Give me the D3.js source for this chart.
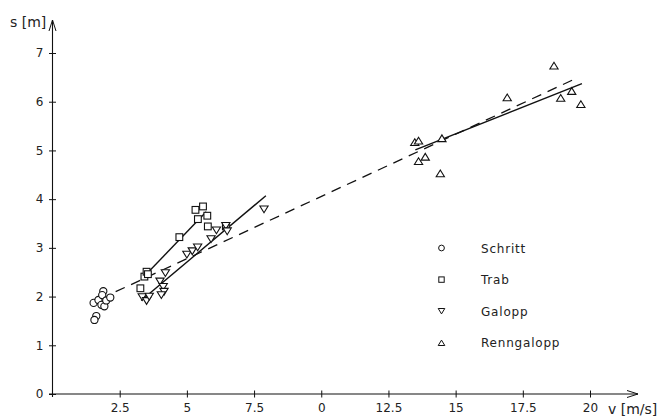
<!DOCTYPE html>
<html><head><meta charset="utf-8">
<script src="https://cdn.jsdelivr.net/npm/d3@7/dist/d3.min.js"></script>
<style>
html,body{margin:0;padding:0;background:#fff;}
svg{display:block;}
text{font-family:"DejaVu Sans","Liberation Sans",sans-serif;fill:#222;}
</style></head>
<body>
<script>
// ---- data ----
const xTickValues = [2.5, 5, 7.5, 10, 12.5, 15, 17.5, 20];
const xTickLabels = ["2.5", "5", "7.5", "0", "12.5", "15", "17.5", "20"];
const yTickValues = [0, 1, 2, 3, 4, 5, 6, 7];
const yTickLabels = ["0", "1", "2", "3", "4", "5", "6", "7"];

const schritt = [[1.53,1.87],[1.71,1.93],[1.89,2.11],[1.85,2.03],[1.82,1.83],[1.93,1.80],[2.0,1.92],[2.15,1.98],[1.63,1.60],[1.56,1.52]];
const trab = [[3.27,2.17],[3.42,2.41],[3.50,2.51],[3.55,2.46],[4.72,3.22],[5.32,3.78],[5.60,3.85],[5.76,3.66],[5.41,3.59],[5.78,3.44],[6.45,3.44]];
const galopp = [[3.34,1.99],[3.50,1.91],[3.60,2.00],[4.00,2.31],[4.12,2.20],[4.15,2.10],[4.05,2.03],[4.20,2.48],[5.00,2.86],[5.20,2.93],[5.40,3.01],[5.90,3.18],[6.10,3.36],[6.45,3.45],[6.50,3.34],[7.87,3.79]];
const renngalopp = [[13.48,5.17],[13.62,5.20],[14.49,5.25],[13.62,4.78],[13.87,4.87],[14.43,4.53],[16.92,6.09],[18.66,6.74],[18.91,6.08],[19.32,6.22],[19.66,5.95]];

const lineAll = [[2.35,2.10],[19.45,6.47]];
const lineTrab = [[3.30,2.35],[5.72,3.74]];
const lineGalopp = [[3.30,1.92],[7.94,4.07]];
const lineRenn = [[13.50,5.01],[19.70,6.37]];

const legendNames = ["Schritt", "Trab", "Galopp", "Renngalopp"];
const legendTypes = ["circle", "square", "down", "up"];

// ---- chart ----
const W = 664, H = 418;
const svg = d3.select("body").append("svg").attr("width", W).attr("height", H);
const x = d3.scaleLinear().domain([0, 20]).range([52.5, 590]);
const y = d3.scaleLinear().domain([0, 7]).range([394, 53]);

const ink = "#111";

// axes lines
svg.append("line").attr("x1", 49).attr("x2", 638).attr("y1", y(0)).attr("y2", y(0))
  .attr("stroke", ink).attr("stroke-width", 1.1);
svg.append("line").attr("x1", x(0)).attr("x2", x(0)).attr("y1", 397).attr("y2", 20)
  .attr("stroke", ink).attr("stroke-width", 1.1);
// arrows
svg.append("path").attr("d", `M${x(0)-3.5},${31} L${x(0)},${20} L${x(0)+3.5},${31}`)
  .attr("fill", "none").attr("stroke", ink).attr("stroke-width", 1);
svg.append("path").attr("d", `M${627},${y(0)-3.5} L${638},${y(0)} L${627},${y(0)+3.5}`)
  .attr("fill", "none").attr("stroke", ink).attr("stroke-width", 1);

// x axis
const xAxis = d3.axisBottom(x).tickValues(xTickValues)
  .tickFormat((d, i) => xTickLabels[i]).tickSize(3).tickPadding(6);
const gx = svg.append("g").attr("transform", `translate(0,${y(0)})`).call(xAxis);
gx.select(".domain").remove();
gx.selectAll(".tick line").attr("y1", -3.5).attr("y2", 3.5).attr("stroke", ink);
gx.selectAll(".tick text").attr("font-size", 12).attr("fill", "#222")
  .attr("font-family", "'DejaVu Sans', sans-serif");

// y axis
const yAxis = d3.axisLeft(y).tickValues(yTickValues)
  .tickFormat((d, i) => yTickLabels[i]).tickSize(3).tickPadding(6);
const gy = svg.append("g").attr("transform", `translate(${x(0)},0)`).call(yAxis);
gy.select(".domain").remove();
gy.selectAll(".tick line").attr("x1", -3.5).attr("x2", 3.5).attr("stroke", ink);
gy.selectAll(".tick text").attr("font-size", 12).attr("fill", "#222")
  .attr("font-family", "'DejaVu Sans', sans-serif");

// axis titles
svg.append("text").attr("x", 10).attr("y", 27).attr("font-size", 14).text("s [m]");
svg.append("text").attr("x", 608).attr("y", 414).attr("font-size", 14).text("v [m/s]");

// regression lines
const lg = d3.line().x(d => x(d[0])).y(d => y(d[1]));
svg.append("path").attr("d", lg(lineAll)).attr("fill", "none").attr("stroke", ink)
  .attr("stroke-width", 1.3).attr("stroke-dasharray", "10,7");
[lineTrab, lineGalopp, lineRenn].forEach(l => {
  svg.append("path").attr("d", lg(l)).attr("fill", "none").attr("stroke", ink).attr("stroke-width", 1.4);
});

// markers
function marker(g, type, cx, cy, s) {
  if (type === "circle") {
    g.append("circle").attr("cx", cx).attr("cy", cy).attr("r", s * 0.48);
  } else if (type === "square") {
    g.append("rect").attr("x", cx - s * 0.45).attr("y", cy - s * 0.45).attr("width", s * 0.9).attr("height", s * 0.9);
  } else if (type === "down") {
    const h = s * 0.9, w = s * 1.1;
    g.append("path").attr("d", `M${cx - w/2},${cy - h/2} L${cx + w/2},${cy - h/2} L${cx},${cy + h/2} Z`);
  } else {
    const h = s * 0.9, w = s * 1.1;
    g.append("path").attr("d", `M${cx - w/2},${cy + h/2} L${cx + w/2},${cy + h/2} L${cx},${cy - h/2} Z`);
  }
}
const mg = svg.append("g").attr("fill", "#fff").attr("stroke", ink).attr("stroke-width", 1.1);
[[schritt, "circle"], [trab, "square"], [galopp, "down"], [renngalopp, "up"]].forEach(([data, t]) => {
  data.forEach(d => marker(mg, t, x(d[0]), y(d[1]), 7.5));
});

// legend
const lgd = svg.append("g");
legendNames.forEach((n, i) => {
  const cy = 248 + i * 31.6;
  const m = lgd.append("g").attr("fill", "#fff").attr("stroke", ink).attr("stroke-width", 1);
  marker(m, legendTypes[i], 441.5, cy, 6);
  lgd.append("text").attr("x", 481).attr("y", cy + 4.5).attr("font-size", 12)
    .attr("letter-spacing", 0.8).text(n);
});
</script>
</body></html>
